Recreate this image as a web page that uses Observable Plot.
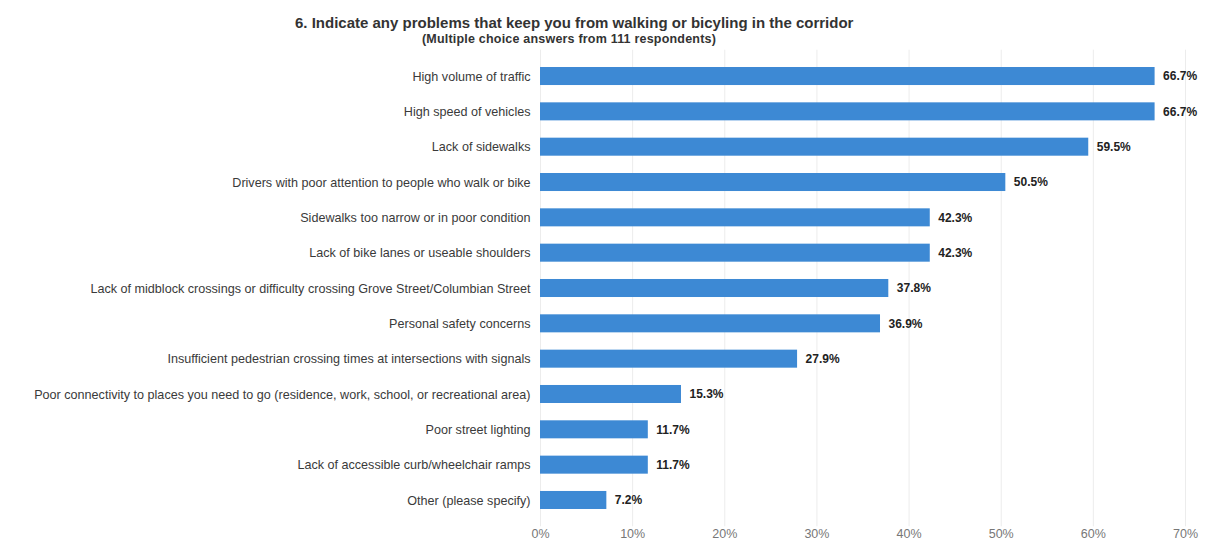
<!DOCTYPE html>
<html>
<head>
<meta charset="utf-8">
<script src="https://cdn.jsdelivr.net/npm/d3@7"></script>
<script src="https://cdn.jsdelivr.net/npm/@observablehq/plot@0.6"></script>
<style>
  body { margin: 0; background: #fff; font-family: "Liberation Sans", Arial, sans-serif; }
  #wrap { position: relative; width: 1209px; height: 550px; overflow: hidden; }
  #head { position: relative; height: 45px; }
  #title { position: absolute; left: 295px; top: 14px; font-size: 15px; line-height: 17px; font-weight: bold; color: #333; white-space: nowrap; }
  #subtitle { position: absolute; left: 422px; top: 32px; font-size: 12.5px; line-height: 14px; letter-spacing: 0.2px; font-weight: bold; color: #333; white-space: nowrap; }
</style>
</head>
<body>
<div id="wrap">
  <div id="head">
    <div id="title">6. Indicate any problems that keep you from walking or bicyling in the corridor</div>
    <div id="subtitle">(Multiple choice answers from 111 respondents)</div>
  </div>
  <div id="chart"></div>
</div>
<script>
const categories = [
  "High volume of traffic",
  "High speed of vehicles",
  "Lack of sidewalks",
  "Drivers with poor attention to people who walk or bike",
  "Sidewalks too narrow or in poor condition",
  "Lack of bike lanes or useable shoulders",
  "Lack of midblock crossings or difficulty crossing Grove Street/Columbian Street",
  "Personal safety concerns",
  "Insufficient pedestrian crossing times at intersections with signals",
  "Poor connectivity to places you need to go (residence, work, school, or recreational area)",
  "Poor street lighting",
  "Lack of accessible curb/wheelchair ramps",
  "Other (please specify)"
];
const percents = [66.7, 66.7, 59.5, 50.5, 42.3, 42.3, 37.8, 36.9, 27.9, 15.3, 11.7, 11.7, 7.2];
const xTicks = [0, 10, 20, 30, 40, 50, 60, 70];

const data = categories.map((c, i) => ({category: c, value: percents[i]}));

const chart = Plot.plot({
  width: 1209,
  height: 505,
  marginLeft: 540,
  marginRight: 24,
  marginTop: 4.7,
  marginBottom: 23.7,
  style: {fontFamily: "'Liberation Sans', Arial, sans-serif", fontSize: "12.5px", color: "#444", background: "transparent"},
  x: {domain: [0, 70], ticks: xTicks, tickFormat: d => d + "%", label: null},
  y: {domain: categories, padding: 0.49, round: false, label: null},
  marks: [
    Plot.gridX(xTicks, {stroke: "#ececec", strokeOpacity: 1}),
    Plot.barX(data, {x: "value", y: "category", fill: "#3d89d4"}),
    Plot.text(data, {x: "value", y: "category", text: d => d.value.toFixed(1) + "%", textAnchor: "start", dx: 8, fontWeight: "bold", fill: "#222", fontSize: 12}),
    Plot.axisX({ticks: xTicks, tickFormat: d => d + "%", tickSize: 0, tickPadding: 2, fill: "#777", fontSize: 12.5, label: null}),
    Plot.axisY({tickSize: 0, tickPadding: 10, fill: "#3a3a3a", fontSize: 12.6, label: null})
  ]
});
document.getElementById("chart").appendChild(chart);
</script>
</body>
</html>
